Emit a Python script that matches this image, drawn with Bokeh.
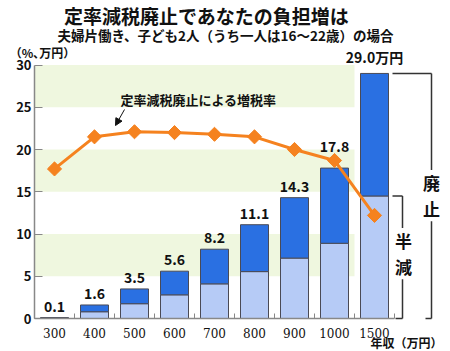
import numpy as np
from bokeh.plotting import figure
from bokeh.models import (ColumnDataSource, Range1d, FixedTicker, Label, LabelSet,
                          Arrow, NormalHead)
from bokeh.core.properties import value
from bokeh.embed import file_html
from bokeh.resources import INLINE

# ---- data ----
incomes = ["300", "400", "500", "600", "700", "800", "900", "1000", "1500"]
burden_total = [0.1, 1.6, 3.5, 5.6, 8.2, 11.1, 14.3, 17.8, 29.0]      # 廃止 (万円)
burden_half = [0.05, 0.8, 1.75, 2.8, 4.1, 5.55, 7.15, 8.9, 14.5]        # 半減 (万円)
tax_rate = [17.7, 21.5, 22.1, 22.0, 21.8, 21.5, 20.0, 18.7, 12.2]      # 増税率 (%)
value_labels = ["0.1", "1.6", "3.5", "5.6", "8.2", "11.1", "14.3", "17.8", "29.0万円"]
y_ticks = [0, 5, 10, 15, 20, 25, 30]
band_bottoms = [5, 15, 25]
band_tops = [10, 20, 30]

FONT = "Noto Sans CJK JP"
W, H = 450, 351
AXIS_X_PX = 34        # pixel column of the y axis
ZERO_Y_PX = 318       # pixel row of y = 0
PX_X = 40.0
PX_Y = 253.5 / 30.0


def dx(px):
    return -0.5 + (px - AXIS_X_PX) / PX_X


def dy(py):
    return (ZERO_Y_PX - py) / PX_Y


idx = list(range(len(incomes)))

p = figure(width=W, height=H, output_backend="svg", toolbar_location=None,
           x_range=Range1d(dx(0), dx(W)), y_range=Range1d(dy(H), dy(0)),
           min_border_left=0, min_border_right=0, min_border_top=0,
           min_border_bottom=0)
p.outline_line_color = None
p.xgrid.visible = False
p.ygrid.visible = False
p.background_fill_color = "white"
p.border_fill_color = "white"

# light green bands
p.quad(left=-0.5, right=len(incomes) - 1.5, bottom=band_bottoms, top=band_tops,
       fill_color="#eff7df", line_color=None)

# bars
src = ColumnDataSource(dict(x=idx, total=burden_total, half=burden_half,
                            rate=tax_rate, lab=value_labels,
                            off=[6] * 7 + [16] + [6]))
p.vbar(x="x", width=0.7, bottom=0, top="half", source=src,
       fill_color="#b6cbf6", line_color="#4a4a55", line_width=1)
p.vbar(x="x", width=0.7, bottom="half", top="total", source=src,
       fill_color="#2a70e2", line_color="#4a4a55", line_width=1)

p.add_layout(LabelSet(x="x", y="total", text="lab", y_offset="off", source=src,
                      text_align="center", text_baseline="bottom",
                      text_font=value(FONT), text_font_style="bold",
                      text_font_size="14px", text_color="#111111"))

# tax-rate line
p.line(x="x", y="rate", source=src, line_color="#f5821f", line_width=3)
p.scatter(x="x", y="rate", source=src, marker="square", angle=np.pi / 4,
          size=10, fill_color="#f5821f", line_color="#f5821f")

# axes
xa = p.xaxis[0]
xa.fixed_location = 0
xa.ticker = FixedTicker(ticks=idx, minor_ticks=[i - 0.5 for i in range(len(incomes) + 1)])
xa.major_label_overrides = {i: s for i, s in enumerate(incomes)}
xa.bounds = (-0.5, len(incomes) - 0.5)
xa.axis_line_color = "#888888"
xa.axis_line_width = 1.5
xa.major_tick_line_color = None
xa.minor_tick_line_color = "#888888"
xa.minor_tick_in = 5
xa.minor_tick_out = 0
xa.major_label_standoff = 3
xa.major_label_text_font = "DejaVu Serif"
xa.major_label_text_font_size = "12px"
xa.major_label_text_color = "#111111"

ya = p.yaxis[0]
ya.fixed_location = -0.5
ya.ticker = FixedTicker(ticks=y_ticks, minor_ticks=[])
ya.bounds = (0, 30)
ya.axis_line_color = "#888888"
ya.axis_line_width = 1.5
ya.major_tick_line_color = "#888888"
ya.major_tick_in = 8
ya.major_tick_out = 0
ya.major_label_standoff = 3
ya.major_label_text_font = FONT
ya.major_label_text_font_style = "bold"
ya.major_label_text_font_size = "13px"
ya.major_label_text_color = "#111111"

# brackets
bc = "#333333"
n = len(incomes) - 1
p.segment(x0=[dx(431), dx(392), dx(425)], y0=[0, burden_total[n], 0],
          x1=[dx(431), dx(431), dx(431)], y1=[burden_total[n], burden_total[n], 0],
          line_color=bc, line_width=1.5)
p.segment(x0=[dx(402), dx(392), dx(395)], y0=[0, burden_half[n], 0],
          x1=[dx(402), dx(402), dx(402)], y1=[burden_half[n], burden_half[n], 0],
          line_color=bc, line_width=1.5)

p.add_layout(Label(x=dx(431), y=dy(195), text="廃\n止", text_align="center",
                   text_baseline="middle", text_font=FONT, text_font_style="bold",
                   text_font_size="17px", text_line_height=1.05,
                   background_fill_color="white", text_color="#111111"))
p.add_layout(Label(x=dx(403), y=dy(253), text="半\n減", text_align="center",
                   text_baseline="middle", text_font=FONT, text_font_style="bold",
                   text_font_size="17px", text_line_height=1.05,
                   background_fill_color="white", text_color="#111111"))

# annotation
p.add_layout(Label(x=dx(198), y=dy(99), text="定率減税廃止による増税率",
                   text_align="center", text_baseline="middle", text_font=FONT,
                   text_font_style="bold", text_font_size="13px", text_color="#111111"))
p.add_layout(Arrow(x_start=dx(124), y_start=dy(109), x_end=dx(115), y_end=dy(125),
                   line_color="#111111", line_width=1,
                   end=NormalHead(size=7, fill_color="#111111", line_color="#111111")))

# titles
p.add_layout(Label(x=dx(206), y=dy(15), text="定率減税廃止であなたの負担増は",
                   text_align="center", text_baseline="middle", text_font=FONT,
                   text_font_style="bold", text_font_size="19px", text_color="#111111"))
p.add_layout(Label(x=dx(225), y=dy(34), text="夫婦片働き、子ども2人（うち一人は16〜22歳）の場合",
                   text_align="center", text_baseline="middle", text_font=FONT,
                   text_font_style="bold", text_font_size="13.5px", text_color="#111111"))
p.add_layout(Label(x=dx(42), y=dy(52), text="（%､万円）",
                   text_align="center", text_baseline="middle", text_font=FONT,
                   text_font_style="bold", text_font_size="12px", text_color="#111111"))
p.add_layout(Label(x=dx(406), y=dy(342), text="年収（万円）",
                   text_align="center", text_baseline="middle", text_font=FONT,
                   text_font_style="bold", text_font_size="12px", text_color="#111111"))

open("out.html", "w").write(file_html(p, INLINE))
